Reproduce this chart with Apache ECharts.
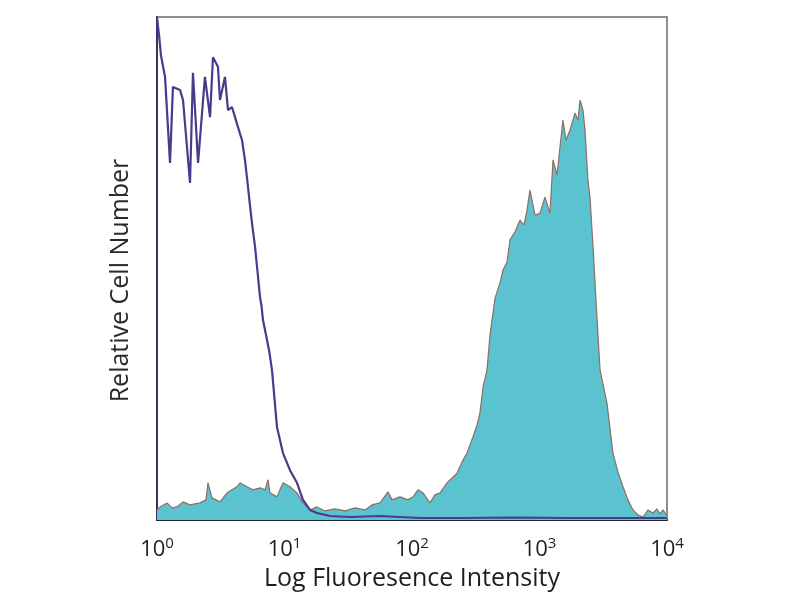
<!DOCTYPE html>
<html><head><meta charset="utf-8">
<script src="https://cdn.jsdelivr.net/npm/echarts@6/dist/echarts.min.js"></script>
<style>html,body{margin:0;padding:0;background:#fff}#c{width:800px;height:600px}</style>
</head><body><div id="c"></div>
<script>
// x positions given as log10 exponents (decades), y as relative cell number (0-100)
const xTickExponents = [0, 1, 2, 3, 4];
const xAxisTitle = 'Log Fluoresence Intensity';
const yAxisTitle = 'Relative Cell Number';

const controlExp = [0,0.016,0.031,0.063,0.102,0.125,0.18,0.204,0.259,0.282,0.322,0.376,0.416,0.439,0.478,0.494,0.533,0.557,0.588,0.612,0.635,0.667,0.69,0.714,0.729,0.745,0.769,0.784,0.808,0.82,0.831,0.863,0.88,0.902,0.941,0.988,1.043,1.098,1.145,1.2,1.255,1.357,1.514,1.749,2.063,2.4,2.8,3.2,3.6,4.0];
const controlVal = [100,96.4,92.4,88.1,71.0,86.1,85.5,83.5,67.0,88.9,71.0,88.1,80.1,92.0,90.1,83.5,88.1,81.5,82.1,80.1,78.1,75.5,71.6,66.2,62.6,59.0,54.3,50.5,44.3,42.5,39.8,35.8,33.6,29.8,18.5,13.3,9.9,7.4,4.0,2.0,1.4,0.8,0.6,0.8,0.4,0.4,0.5,0.4,0.4,0.4];

const stainedExp = [0,0.024,0.078,0.118,0.157,0.204,0.259,0.337,0.384,0.4,0.431,0.494,0.549,0.588,0.627,0.651,0.706,0.753,0.808,0.847,0.871,0.886,0.941,0.988,1.043,1.098,1.145,1.2,1.255,1.318,1.396,1.475,1.553,1.631,1.686,1.749,1.812,1.843,1.906,1.969,2.008,2.047,2.086,2.141,2.18,2.22,2.275,2.314,2.353,2.392,2.431,2.478,2.51,2.533,2.557,2.588,2.612,2.651,2.69,2.714,2.745,2.769,2.808,2.847,2.878,2.902,2.925,2.965,3.004,3.043,3.082,3.106,3.137,3.161,3.184,3.208,3.239,3.278,3.302,3.318,3.341,3.357,3.38,3.396,3.42,3.443,3.475,3.529,3.576,3.616,3.655,3.694,3.733,3.773,3.812,3.851,3.89,3.922,3.945,3.969,4.0];
const stainedVal = [2.0,2.6,3.4,2.4,2.6,3.6,3.0,3.4,4.0,7.4,4.4,3.6,5.4,6.0,6.6,7.4,6.6,6.0,6.4,6.0,8.0,5.4,4.6,7.4,6.6,5.4,3.4,2.0,2.6,1.8,2.2,1.8,2.4,2.0,3.0,3.4,5.6,4.0,4.6,4.0,4.6,6.0,5.4,3.4,5.0,5.4,7.4,8.3,9.3,11.5,13.3,16.5,18.9,21.3,26.4,29.8,36.8,44.1,47.1,49.7,51.3,55.7,57.3,59.6,58.6,61.6,65.6,60.6,61.0,64.2,61.0,71.6,68.6,74.2,79.5,75.5,77.5,80.9,79.5,83.5,81.5,77.5,67.6,64.2,54.3,43.7,29.8,23.3,13.3,9.5,6.6,4.0,2.0,1.0,0.6,2.0,1.4,2.2,1.2,2.0,0.8];

const toPairs = (ex, vals) => ex.map((e, i) => [Math.pow(10, e), vals[i]]);

const chart = echarts.init(document.getElementById('c'));
chart.setOption({
  animation: false,
  backgroundColor: '#fff',
  grid: { left: 157, right: 133, top: 17, bottom: 80, show: true, borderColor: '#6a6a6a', borderWidth: 1.5, backgroundColor: '#fff' },
  xAxis: {
    type: 'log', logBase: 10, min: Math.pow(10, xTickExponents[0]), max: Math.pow(10, xTickExponents[xTickExponents.length-1]),
    axisLine: { show: true, lineStyle: { color: '#1c2630', width: 2 } },
    axisTick: { show: false }, splitLine: { show: false },
    axisLabel: {
      margin: 16, showMinLabel: true, showMaxLabel: true,
      formatter: v => '{a|10}{b|' + Math.round(Math.log10(v)) + '}',
      rich: {
        a: { fontFamily: 'Open Sans', fontSize: 22, color: '#1e1e1e' },
        b: { fontFamily: 'Open Sans', fontSize: 15, color: '#1e1e1e', padding: [0, 0, 13, 0] }
      }
    },
    name: xAxisTitle, nameLocation: 'middle', nameGap: 46,
    nameTextStyle: { fontFamily: 'Open Sans', fontSize: 25, color: '#1e1e1e' }
  },
  yAxis: {
    type: 'value', min: 0, max: 100,
    axisLine: { show: true, lineStyle: { color: '#3a3062', width: 2 } },
    axisTick: { show: false }, splitLine: { show: false }, axisLabel: { show: false },
    name: yAxisTitle, nameLocation: 'middle', nameGap: 24, nameRotate: 90,
    nameTextStyle: { fontFamily: 'Open Sans', fontSize: 25, color: '#2a2a2a', padding: [0, 24, 0, 0] }
  },
  series: [
    {
      type: 'line', data: toPairs(stainedExp, stainedVal), symbol: 'none',
      lineStyle: { color: '#8c6f62', width: 1.2 },
      areaStyle: { color: '#5bc2cf', opacity: 1 }
    },
    {
      type: 'line', data: toPairs(controlExp, controlVal), symbol: 'none',
      lineStyle: { color: '#4b3a8c', width: 2.2 }
    }
  ]
});
</script></body></html>
